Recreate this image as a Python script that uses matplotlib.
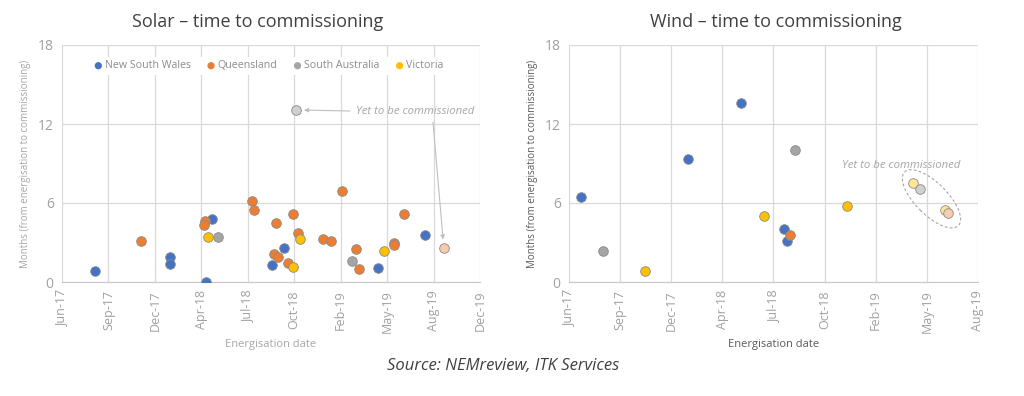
import matplotlib
matplotlib.use('Agg')
import matplotlib.pyplot as plt
import matplotlib.dates as mdates
import matplotlib.transforms as mtransforms
from matplotlib.patches import Ellipse
import numpy as np
import datetime as dt

plt.rcParams['font.family'] = ['Open Sans', 'DejaVu Sans']

# ---------------- data ----------------
states = ['New South Wales', 'Queensland', 'South Australia', 'Victoria']
state_colors = ['#4472C4', '#ED7D31', '#A5A5A5', '#FFC000']
pending_colors = {'Queensland': '#F8CBAD', 'South Australia': '#D0D0D0', 'Victoria': '#FFE699'}

# Solar (commissioned)
solar_nsw_dates = ['2017-08-23', '2018-02-02', '2018-02-02', '2018-04-21', '2018-05-03',
                   '2018-09-09', '2018-10-05', '2019-04-25', '2019-08-05']
solar_nsw_months = [0.8, 1.87, 1.37, 0.03, 4.78, 1.31, 2.55, 1.09, 3.59]

solar_qld_dates = ['2017-12-01', '2018-04-18', '2018-04-15', '2018-07-29', '2018-08-02',
                   '2018-09-17', '2018-09-13', '2018-09-22', '2018-10-25', '2018-11-04',
                   '2018-10-14', '2018-12-29', '2019-01-14', '2019-02-07', '2019-03-10',
                   '2019-03-15', '2019-05-30', '2019-05-30', '2019-06-20']
solar_qld_months = [3.13, 4.6, 4.32, 6.12, 5.49, 4.47, 2.12, 1.87, 5.16, 3.72,
                    1.44, 3.24, 3.13, 6.9, 2.48, 0.96, 3.0, 2.83, 5.13]

solar_sa_dates = ['2018-05-15', '2019-03-01']
solar_sa_months = [3.39, 1.62]

solar_vic_dates = ['2018-04-24', '2018-11-09', '2018-10-25', '2019-05-09']
solar_vic_months = [3.39, 3.26, 1.14, 2.38]

# Solar (yet to be commissioned)
solar_pending_states = ['South Australia', 'Queensland']
solar_pending_dates = ['2018-10-30', '2019-09-14']
solar_pending_months = [13.07, 2.6]

# Wind (commissioned)
wind_nsw_dates = ['2017-07-08', '2018-02-02', '2018-05-16', '2018-08-08', '2018-08-15']
wind_nsw_months = [6.42, 9.32, 13.58, 4.06, 3.12]

wind_qld_dates = ['2018-08-21']
wind_qld_months = [3.58]

wind_sa_dates = ['2017-08-19', '2018-08-30']
wind_sa_months = [2.34, 10.03]

wind_vic_dates = ['2017-11-10', '2018-07-01', '2018-12-10']
wind_vic_months = [0.84, 5.0, 5.76]

# Wind (yet to be commissioned)
wind_pending_states = ['Victoria', 'South Australia', 'Victoria', 'Queensland']
wind_pending_dates = ['2019-04-18', '2019-05-01', '2019-06-19', '2019-06-26']
wind_pending_months = [7.49, 7.06, 5.46, 5.26]

solar_tick_labels = ['Jun-17', 'Sep-17', 'Dec-17', 'Apr-18', 'Jul-18', 'Oct-18',
                     'Feb-19', 'May-19', 'Aug-19', 'Dec-19']
wind_tick_labels = ['Jun-17', 'Sep-17', 'Dec-17', 'Apr-18', 'Jul-18', 'Oct-18',
                    'Feb-19', 'May-19', 'Aug-19']
axis_start = '2017-06-14'
tick_step_days = 100
y_ticks = [0, 6, 12, 18]

# ---------------- helpers ----------------
def d(s):
    return mdates.date2num(dt.datetime.strptime(s, '%Y-%m-%d'))

GRID = '#D9D9D9'
TICK = '#A0A0A0'
EDGE = '#8A8A8A'
MS = 48

def style_axes(ax, tick_labels, label_color):
    start = d(axis_start)
    ticks = [start + i * tick_step_days for i in range(len(tick_labels))]
    ax.set_xlim(ticks[0], ticks[-1])
    ax.set_ylim(0, 18)
    ax.set_xticks(ticks)
    ax.set_xticklabels(tick_labels, rotation=90, fontsize=9, color=TICK)
    ax.set_yticks(y_ticks)
    ax.set_yticklabels([str(v) for v in y_ticks], fontsize=10, color=TICK)
    ax.tick_params(length=0, pad=6)
    ax.grid(True, color=GRID, linewidth=0.9)
    ax.set_axisbelow(True)
    for sp in ['top', 'right', 'left']:
        ax.spines[sp].set_visible(False)
    ax.spines['bottom'].set_color('#C8C8C8')
    ax.set_xlabel('Energisation date', fontsize=8, color=label_color, labelpad=4)
    ax.set_ylabel('Months (from energisation to commissioning)', fontsize=7,
                  color=label_color, labelpad=5)

def plot_series(ax, series):
    for name, color, (dates, months) in zip(states, state_colors, series):
        ax.scatter([d(s) for s in dates], months, s=MS, color=color,
                   edgecolor=EDGE, linewidth=0.6, zorder=3, label=name)

def plot_pending(ax, pstates, pdates, pmonths):
    for st, ds, m in zip(pstates, pdates, pmonths):
        ax.scatter([d(ds)], [m], s=MS, color=pending_colors[st],
                   edgecolor=EDGE, linewidth=0.6, zorder=3)

# ---------------- figure ----------------
fig = plt.figure(figsize=(10.24, 3.96), dpi=100)
ax1 = fig.add_axes([62/1024, 1-282/396, (480-62)/1024, (282-45)/396])
ax2 = fig.add_axes([569/1024, 1-282/396, (978-569)/1024, (282-45)/396])

# Solar
style_axes(ax1, solar_tick_labels, '#A6A6A6')
plot_series(ax1, [(solar_nsw_dates, solar_nsw_months), (solar_qld_dates, solar_qld_months),
                  (solar_sa_dates, solar_sa_months), (solar_vic_dates, solar_vic_months)])
plot_pending(ax1, solar_pending_states, solar_pending_dates, solar_pending_months)
leg = ax1.legend(loc='center', bbox_to_anchor=((269-62)/418, 1-(66-45)/237), ncol=4,
                 frameon=True, facecolor='white', edgecolor='none', framealpha=1,
                 fontsize=7.7, handlelength=0.7, handletextpad=0.25, columnspacing=1.55,
                 markerscale=0.75, borderpad=0.35, borderaxespad=0)
leg.get_frame().set_boxstyle('square', pad=0)
for t in leg.get_texts():
    t.set_color('#8C8C8C')
for h in leg.legend_handles:
    h.set_edgecolor('none')
fig.text(258/1024, 1-22/396, 'Solar – time to commissioning', ha='center', va='center',
         fontsize=13, color='#404040')

# solar annotation
ax1.annotate('', xy=(d(solar_pending_dates[0]), solar_pending_months[0]),
             xytext=(350/1024, 1-111/396), textcoords='figure fraction',
             arrowprops=dict(arrowstyle='-|>', color='#BFBFBF', lw=0.8,
                             shrinkA=0, shrinkB=6, mutation_scale=6))
ax1.annotate('', xy=(d(solar_pending_dates[1]), solar_pending_months[1]),
             xytext=(433/1024, 1-122/396), textcoords='figure fraction',
             arrowprops=dict(arrowstyle='-|>', color='#BFBFBF', lw=0.8,
                             shrinkA=0, shrinkB=6, mutation_scale=6))
fig.text(415/1024, 1-112/396, 'Yet to be commissioned', ha='center', va='center',
         fontsize=8.2, style='italic', color='#A6A6A6')

# Wind
style_axes(ax2, wind_tick_labels, '#595959')
plot_series(ax2, [(wind_nsw_dates, wind_nsw_months), (wind_qld_dates, wind_qld_months),
                  (wind_sa_dates, wind_sa_months), (wind_vic_dates, wind_vic_months)])
plot_pending(ax2, wind_pending_states, wind_pending_dates, wind_pending_months)
fig.text(776/1024, 1-22/396, 'Wind – time to commissioning', ha='center', va='center',
         fontsize=13, color='#404040')
fig.text(901/1024, 1-165/396, 'Yet to be commissioned', ha='center', va='center',
         fontsize=8.2, style='italic', color='#A6A6A6')

cx = np.mean([d(s) for s in wind_pending_dates])
cy = np.mean(wind_pending_months)
ell_tr = fig.dpi_scale_trans + mtransforms.ScaledTranslation(cx, cy, ax2.transData)
ell = Ellipse((0, 0), width=0.76, height=0.32, angle=-45, transform=ell_tr,
              fill=False, edgecolor='#A6A6A6', linestyle=(0, (2.5, 2)), linewidth=0.8,
              clip_on=False)
ax2.add_artist(ell)

fig.text(503/1024, 1-366/396, 'Source: NEMreview, ITK Services', ha='center', va='center',
         fontsize=12, style='italic', color='#404040')

fig.savefig('out.png', dpi=100)
